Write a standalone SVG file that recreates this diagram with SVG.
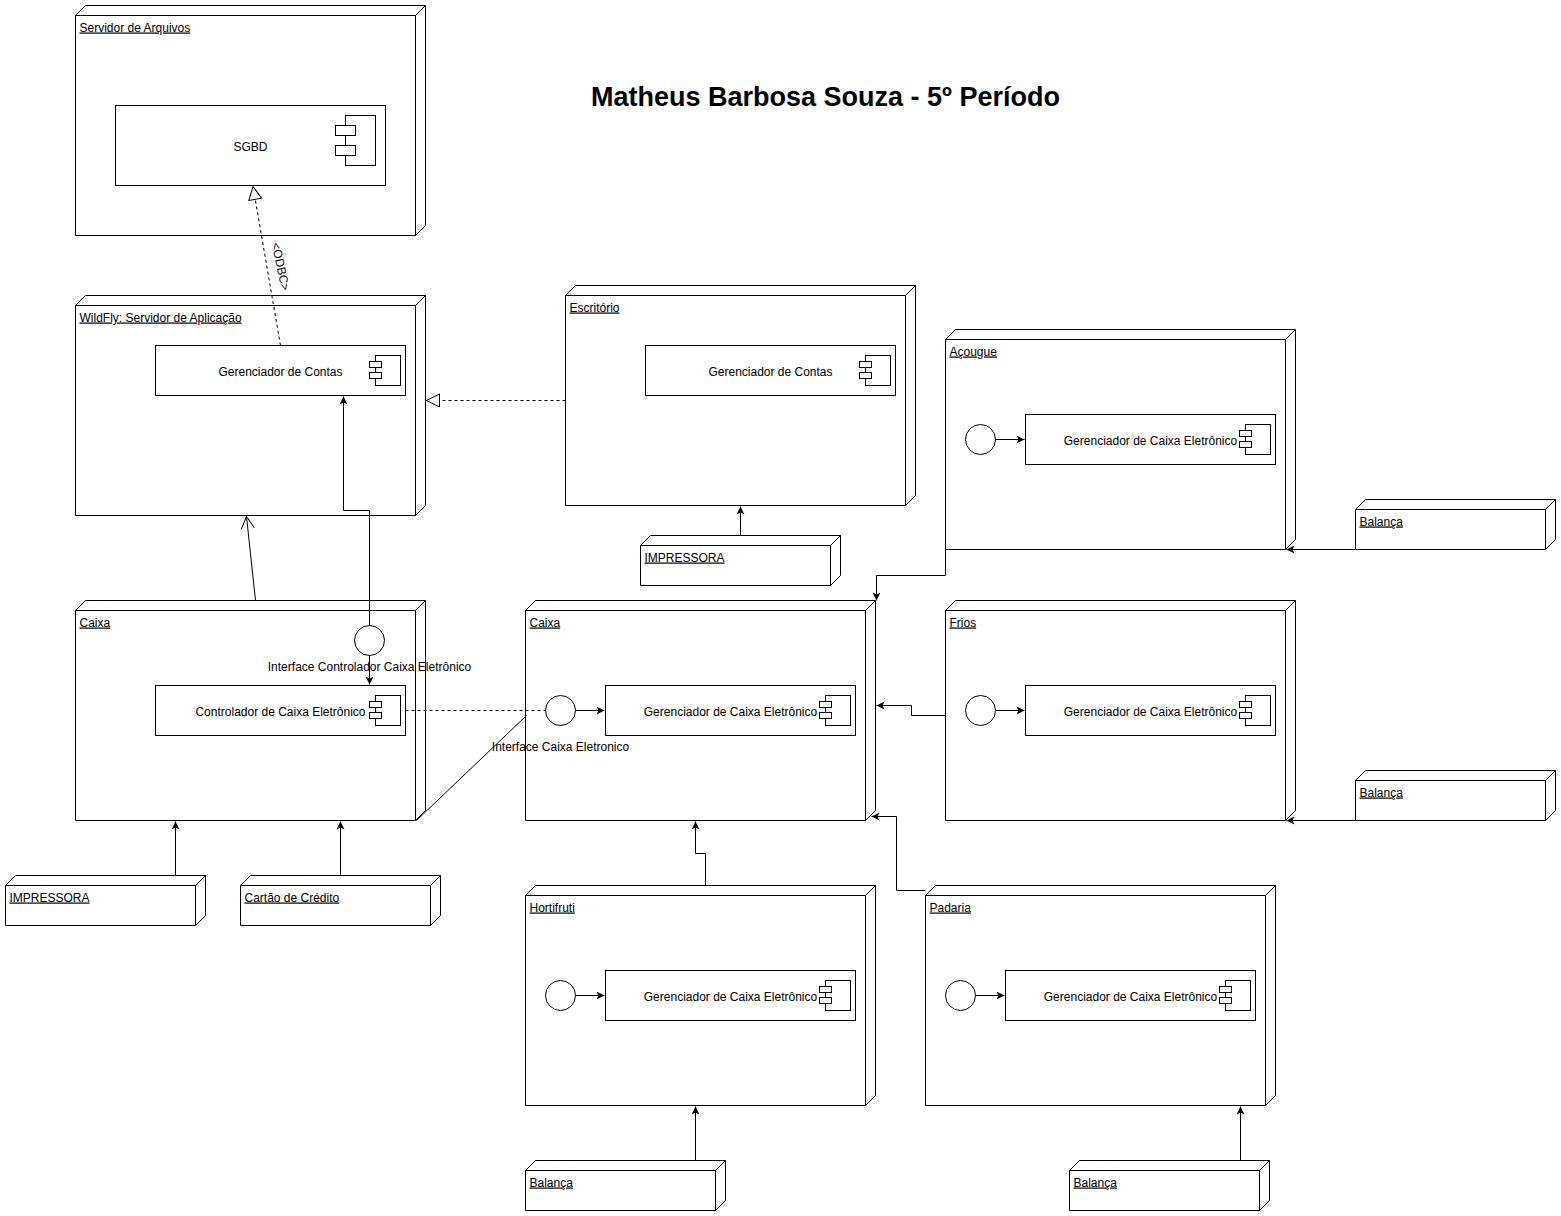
<svg xmlns="http://www.w3.org/2000/svg" width="1561" height="1216" viewBox="0 0 1561 1216">
<style>
.n{fill:#fff;stroke:#000;stroke-width:1}
.ln{fill:none;stroke:#000;stroke-width:1}
.c{fill:#fff;stroke:#000;stroke-width:1}
.e{fill:none;stroke:#000;stroke-width:1}
.d{stroke-dasharray:3 3}
text{font-family:"Liberation Sans",Arial,sans-serif;font-size:12px;fill:#000}
.lb{text-decoration:underline}
.m{text-anchor:middle}
.t{font-size:27px;font-weight:bold}
</style>
<defs>
<marker id="arr" markerWidth="10" markerHeight="10" refX="8" refY="4" orient="auto" markerUnits="userSpaceOnUse"><path d="M0,0 L8,4 L0,8 L2,4 Z" fill="#000"/></marker>
<marker id="tri" markerWidth="16" markerHeight="16" refX="14" refY="7.5" orient="auto" markerUnits="userSpaceOnUse"><path d="M1,1 L14,7.5 L1,14 Z" fill="#fff" stroke="#000"/></marker>
<marker id="open" markerWidth="16" markerHeight="16" refX="13" refY="7" orient="auto" markerUnits="userSpaceOnUse"><path d="M1,0.5 L13,7 L1,13.5" fill="none" stroke="#000"/></marker>
</defs>
<rect width="1561" height="1216" fill="#fff"/>
<g transform="translate(0.5,0.5)">
<text class="t m" x="825" y="105">Matheus Barbosa Souza - 5º Período</text>

<g id="servidor-arquivos">
<path class="n" d="M75,15 L85,5 L425,5 L425,225 L415,235 L75,235 Z"/>
<path class="ln" d="M75,15 H415 V235 M415,15 L425,5"/>
<text class="lb" x="79" y="31">Servidor de Arquivos</text>
<g id="sgbd">
<rect class="c" x="115" y="105" width="270" height="80"/>
<rect class="c" x="345" y="115" width="30" height="50"/>
<rect class="c" x="335" y="125" width="20" height="10"/>
<rect class="c" x="335" y="145" width="20" height="10"/>
<text class="m" x="250" y="150">SGBD</text>
</g>
</g>

<g id="wildfly">
<path class="n" d="M75,305 L85,295 L425,295 L425,505 L415,515 L75,515 Z"/>
<path class="ln" d="M75,305 H415 V515 M415,305 L425,295"/>
<text class="lb" x="79" y="321">WildFly: Servidor de Aplicação</text>
<g id="wf-gerenciador-contas">
<rect class="c" x="155" y="345" width="250" height="50"/>
<rect class="c" x="375" y="355" width="25" height="30"/>
<rect class="c" x="369" y="361" width="12" height="6"/>
<rect class="c" x="369" y="372" width="12" height="6"/>
<text class="m" x="280" y="375">Gerenciador de Contas</text>
</g>
</g>

<g id="escritorio">
<path class="n" d="M565,295 L575,285 L915,285 L915,495 L905,505 L565,505 Z"/>
<path class="ln" d="M565,295 H905 V505 M905,295 L915,285"/>
<text class="lb" x="569" y="311">Escritório</text>
<g id="esc-gerenciador-contas">
<rect class="c" x="645" y="345" width="250" height="50"/>
<rect class="c" x="865" y="355" width="25" height="30"/>
<rect class="c" x="859" y="361" width="12" height="6"/>
<rect class="c" x="859" y="372" width="12" height="6"/>
<text class="m" x="770" y="375">Gerenciador de Contas</text>
</g>
</g>

<g id="impressora-escritorio">
<path class="n" d="M640,545 L650,535 L840,535 L840,575 L830,585 L640,585 Z"/>
<path class="ln" d="M640,545 H830 V585 M830,545 L840,535"/>
<text class="lb" x="644" y="561">IMPRESSORA</text>
</g>

<g id="acougue">
<path class="n" d="M945,339 L955,329 L1295,329 L1295,539 L1285,549 L945,549 Z"/>
<path class="ln" d="M945,339 H1285 V549 M1285,339 L1295,329"/>
<text class="lb" x="949" y="355">Açougue</text>
<circle class="c" cx="980" cy="439" r="15"/>
<g id="acougue-gerenciador">
<rect class="c" x="1025" y="414" width="250" height="50"/>
<rect class="c" x="1245" y="424" width="25" height="30"/>
<rect class="c" x="1239" y="430" width="12" height="6"/>
<rect class="c" x="1239" y="441" width="12" height="6"/>
<text class="m" x="1150" y="444">Gerenciador de Caixa Eletrônico</text>
</g>
</g>

<g id="balanca-acougue">
<path class="n" d="M1355,509 L1365,499 L1555,499 L1555,539 L1545,549 L1355,549 Z"/>
<path class="ln" d="M1355,509 H1545 V549 M1545,509 L1555,499"/>
<text class="lb" x="1359" y="525">Balança</text>
</g>

<g id="caixa-esquerda">
<path class="n" d="M75,610 L85,600 L425,600 L425,810 L415,820 L75,820 Z"/>
<path class="ln" d="M75,610 H415 V820 M415,610 L425,600"/>
<text class="lb" x="79" y="626">Caixa</text>
<circle class="c" cx="369" cy="640" r="15"/>
<text class="m" x="369" y="670">Interface Controlador Caixa Eletrônico</text>
<g id="controlador">
<rect class="c" x="155" y="685" width="250" height="50"/>
<rect class="c" x="375" y="695" width="25" height="30"/>
<rect class="c" x="369" y="701" width="12" height="6"/>
<rect class="c" x="369" y="712" width="12" height="6"/>
<text class="m" x="280" y="715">Controlador de Caixa Eletrônico</text>
</g>
</g>

<g id="caixa-meio">
<path class="n" d="M525,610 L535,600 L875,600 L875,810 L865,820 L525,820 Z"/>
<path class="ln" d="M525,610 H865 V820 M865,610 L875,600"/>
<text class="lb" x="529" y="626">Caixa</text>
<circle class="c" cx="560" cy="710" r="15"/>
<text class="m" x="560" y="750">Interface Caixa Eletronico</text>
<g id="caixa-gerenciador">
<rect class="c" x="605" y="685" width="250" height="50"/>
<rect class="c" x="825" y="695" width="25" height="30"/>
<rect class="c" x="819" y="701" width="12" height="6"/>
<rect class="c" x="819" y="712" width="12" height="6"/>
<text class="m" x="730" y="715">Gerenciador de Caixa Eletrônico</text>
</g>
</g>

<g id="frios">
<path class="n" d="M945,610 L955,600 L1295,600 L1295,810 L1285,820 L945,820 Z"/>
<path class="ln" d="M945,610 H1285 V820 M1285,610 L1295,600"/>
<text class="lb" x="949" y="626">Frios</text>
<circle class="c" cx="980" cy="710" r="15"/>
<g id="frios-gerenciador">
<rect class="c" x="1025" y="685" width="250" height="50"/>
<rect class="c" x="1245" y="695" width="25" height="30"/>
<rect class="c" x="1239" y="701" width="12" height="6"/>
<rect class="c" x="1239" y="712" width="12" height="6"/>
<text class="m" x="1150" y="715">Gerenciador de Caixa Eletrônico</text>
</g>
</g>

<g id="balanca-frios">
<path class="n" d="M1355,780 L1365,770 L1555,770 L1555,810 L1545,820 L1355,820 Z"/>
<path class="ln" d="M1355,780 H1545 V820 M1545,780 L1555,770"/>
<text class="lb" x="1359" y="796">Balança</text>
</g>

<g id="impressora-caixa">
<path class="n" d="M5,885 L15,875 L205,875 L205,915 L195,925 L5,925 Z"/>
<path class="ln" d="M5,885 H195 V925 M195,885 L205,875"/>
<text class="lb" x="9" y="901">IMPRESSORA</text>
</g>

<g id="cartao-credito">
<path class="n" d="M240,885 L250,875 L440,875 L440,915 L430,925 L240,925 Z"/>
<path class="ln" d="M240,885 H430 V925 M430,885 L440,875"/>
<text class="lb" x="244" y="901">Cartão de Crédito</text>
</g>

<g id="hortifruti">
<path class="n" d="M525,895 L535,885 L875,885 L875,1095 L865,1105 L525,1105 Z"/>
<path class="ln" d="M525,895 H865 V1105 M865,895 L875,885"/>
<text class="lb" x="529" y="911">Hortifruti</text>
<circle class="c" cx="560" cy="995" r="15"/>
<g id="hortifruti-gerenciador">
<rect class="c" x="605" y="970" width="250" height="50"/>
<rect class="c" x="825" y="980" width="25" height="30"/>
<rect class="c" x="819" y="986" width="12" height="6"/>
<rect class="c" x="819" y="997" width="12" height="6"/>
<text class="m" x="730" y="1000">Gerenciador de Caixa Eletrônico</text>
</g>
</g>

<g id="padaria">
<path class="n" d="M925,895 L935,885 L1275,885 L1275,1095 L1265,1105 L925,1105 Z"/>
<path class="ln" d="M925,895 H1265 V1105 M1265,895 L1275,885"/>
<text class="lb" x="929" y="911">Padaria</text>
<circle class="c" cx="960" cy="995" r="15"/>
<g id="padaria-gerenciador">
<rect class="c" x="1005" y="970" width="250" height="50"/>
<rect class="c" x="1225" y="980" width="25" height="30"/>
<rect class="c" x="1219" y="986" width="12" height="6"/>
<rect class="c" x="1219" y="997" width="12" height="6"/>
<text class="m" x="1130" y="1000">Gerenciador de Caixa Eletrônico</text>
</g>
</g>

<g id="balanca-hortifruti">
<path class="n" d="M525,1170 L535,1160 L725,1160 L725,1200 L715,1210 L525,1210 Z"/>
<path class="ln" d="M525,1170 H715 V1210 M715,1170 L725,1160"/>
<text class="lb" x="529" y="1186">Balança</text>
</g>

<g id="balanca-padaria">
<path class="n" d="M1069,1170 L1079,1160 L1269,1160 L1269,1200 L1259,1210 L1069,1210 Z"/>
<path class="ln" d="M1069,1170 H1259 V1210 M1259,1170 L1269,1160"/>
<text class="lb" x="1073" y="1186">Balança</text>
</g>

<g id="connectors">
<path class="e d" d="M280,345 L252.5,186" marker-end="url(#tri)"/>
<text x="0" y="0" transform="translate(280,266) rotate(78)" class="m" dy="4">&lt;ODBC&gt;</text>
<path class="e d" d="M565,400 H426" marker-end="url(#tri)"/>
<path class="e" d="M255,600 L246,516" marker-end="url(#open)"/>
<path class="e" d="M369,625 V510 H343 V396" marker-end="url(#arr)"/>
<path class="e" d="M369,655 V684" marker-end="url(#arr)"/>
<path class="e d" d="M405,710 H545"/>
<path class="e" d="M416,820 L526,715"/>
<path class="e" d="M575,710 H604" marker-end="url(#arr)"/>
<path class="e" d="M175,875 V821" marker-end="url(#arr)"/>
<path class="e" d="M340,875 V821" marker-end="url(#arr)"/>
<path class="e" d="M740,535 V506" marker-end="url(#arr)"/>
<path class="e" d="M945,549 V575 H876 V600" marker-end="url(#arr)"/>
<path class="e" d="M1355,549 H1286" marker-end="url(#arr)"/>
<path class="e" d="M995,439 H1024" marker-end="url(#arr)"/>
<path class="e" d="M945,715 H911 V705 H876" marker-end="url(#arr)"/>
<path class="e" d="M995,710 H1024" marker-end="url(#arr)"/>
<path class="e" d="M1355,820 H1286" marker-end="url(#arr)"/>
<path class="e" d="M705,885 V853 H695 V821" marker-end="url(#arr)"/>
<path class="e" d="M575,995 H604" marker-end="url(#arr)"/>
<path class="e" d="M925,890 H896 V816 H871" marker-end="url(#arr)"/>
<path class="e" d="M975,995 H1004" marker-end="url(#arr)"/>
<path class="e" d="M695,1160 V1106" marker-end="url(#arr)"/>
<path class="e" d="M1240,1160 V1106" marker-end="url(#arr)"/>
</g>
</g>
</svg>
